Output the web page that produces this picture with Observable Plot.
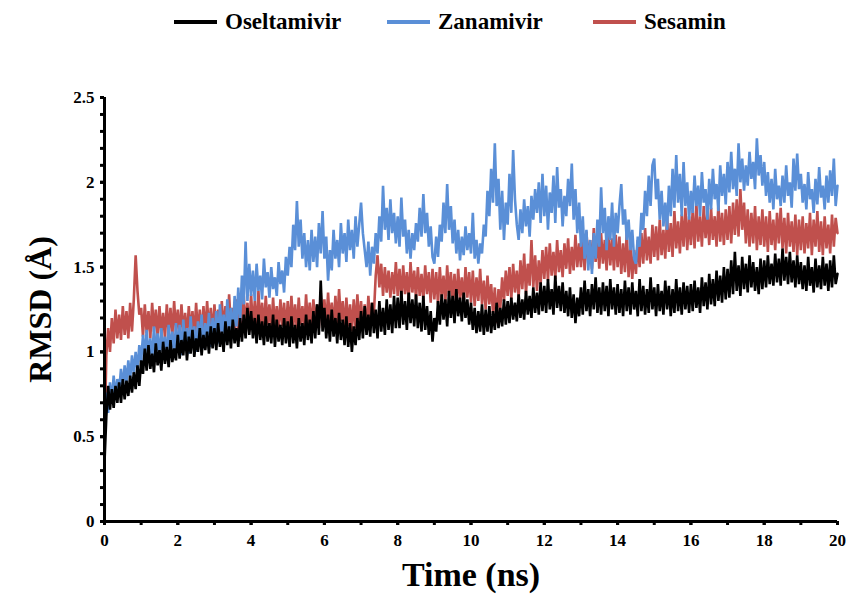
<!DOCTYPE html>
<html><head><meta charset="utf-8">
<script src="https://cdn.jsdelivr.net/npm/d3@7"></script>
<script src="https://cdn.jsdelivr.net/npm/@observablehq/plot@0.6"></script>
<style>
body{margin:0;background:#fff;font-family:"Liberation Serif",serif;}
#wrap{position:relative;width:846px;height:594px;}
#legend{position:relative;width:846px;height:50px;}
.item{position:absolute;top:8px;height:28px;display:flex;align-items:center;font-family:"Liberation Serif",serif;font-weight:bold;font-size:23px;color:#000;white-space:nowrap;}
.sw{width:43px;height:3.5px;margin-right:8px;}
</style></head>
<body><div id="wrap"><div id="legend"></div><div id="chart"></div></div>
<script>
const seriesNames = ["Oseltamivir", "Zanamivir", "Sesamin"];
const seriesColors = ["#000000", "#5a8fd7", "#c0504d"];
const dt = 0.05; // ns between stored samples
const xTicksLabeled = [0, 2, 4, 6, 8, 10, 12, 14, 16, 18, 20];
const xTicksMinor = [0,1,2,3,4,5,6,7,8,9,10,11,12,13,14,15,16,17,18,19,20];
const yTicksLabeled = [0, 0.5, 1, 1.5, 2, 2.5];
const yTicksMinor = [0,0.1,0.2,0.3,0.4,0.5,0.6,0.7,0.8,0.9,1,1.1,1.2,1.3,1.4,1.5,1.6,1.7,1.8,1.9,2,2.1,2.2,2.3,2.4,2.5];

// RMSD (Å), one row per ns (20 samples each) + final point at 20 ns
const oseltamivir = [
0.35,0.62,0.80,0.66,0.78,0.67,0.80,0.70,0.82,0.70,0.84,0.72,0.83,0.74,0.86,0.76,0.88,0.78,0.92,0.80,
0.95,0.87,1.02,0.89,1.04,0.90,0.99,0.88,1.05,0.92,1.01,0.89,1.06,0.93,1.03,0.91,1.07,0.94,1.02,0.95,
1.10,0.96,1.07,0.98,1.12,0.95,1.09,0.99,1.13,0.97,1.08,1.00,1.14,0.98,1.10,1.01,1.12,0.99,1.15,1.02,
1.14,1.01,1.17,1.03,1.12,1.00,1.18,1.04,1.15,1.02,1.19,1.05,1.14,1.03,1.20,1.06,1.22,1.08,1.26,1.10,
1.24,1.08,1.20,1.05,1.22,1.07,1.18,1.04,1.21,1.06,1.17,1.05,1.22,1.03,1.19,1.06,1.16,1.04,1.20,1.05,
1.18,1.03,1.21,1.05,1.16,1.02,1.20,1.06,1.17,1.04,1.22,1.07,1.19,1.05,1.24,1.08,1.28,1.10,1.42,1.12,
1.26,1.08,1.22,1.06,1.25,1.09,1.20,1.05,1.23,1.07,1.19,1.04,1.21,1.03,1.17,1.00,1.15,1.04,1.20,1.07,
1.24,1.08,1.27,1.10,1.22,1.09,1.29,1.11,1.25,1.08,1.30,1.12,1.26,1.10,1.31,1.13,1.28,1.11,1.33,1.14,
1.32,1.14,1.36,1.16,1.30,1.13,1.35,1.17,1.31,1.15,1.34,1.14,1.29,1.12,1.33,1.13,1.27,1.10,1.24,1.06,
1.20,1.12,1.30,1.16,1.34,1.19,1.31,1.15,1.36,1.20,1.33,1.17,1.37,1.21,1.32,1.18,1.35,1.20,1.31,1.16,
1.29,1.13,1.26,1.11,1.24,1.12,1.28,1.10,1.25,1.12,1.27,1.11,1.24,1.13,1.29,1.14,1.26,1.15,1.31,1.16,
1.30,1.17,1.32,1.19,1.29,1.18,1.34,1.20,1.31,1.19,1.36,1.22,1.33,1.20,1.38,1.23,1.35,1.22,1.41,1.24,
1.39,1.23,1.43,1.25,1.37,1.22,1.45,1.26,1.39,1.24,1.41,1.23,1.36,1.21,1.38,1.20,1.34,1.17,1.32,1.21,
1.38,1.22,1.42,1.24,1.37,1.21,1.40,1.25,1.44,1.23,1.38,1.22,1.41,1.24,1.39,1.21,1.43,1.25,1.38,1.22,
1.40,1.23,1.37,1.21,1.42,1.24,1.38,1.22,1.41,1.25,1.36,1.21,1.43,1.24,1.39,1.22,1.37,1.23,1.44,1.25,
1.38,1.21,1.40,1.24,1.36,1.22,1.42,1.25,1.39,1.21,1.37,1.23,1.43,1.24,1.38,1.22,1.41,1.25,1.39,1.23,
1.40,1.24,1.42,1.26,1.38,1.23,1.44,1.27,1.41,1.25,1.46,1.28,1.43,1.27,1.48,1.30,1.45,1.29,1.50,1.31,
1.49,1.32,1.54,1.34,1.59,1.36,1.51,1.33,1.56,1.37,1.52,1.35,1.57,1.38,1.53,1.36,1.50,1.34,1.55,1.37,
1.54,1.38,1.57,1.40,1.52,1.39,1.58,1.41,1.55,1.39,1.61,1.42,1.56,1.40,1.59,1.41,1.54,1.38,1.57,1.40,
1.53,1.37,1.51,1.36,1.56,1.39,1.50,1.35,1.55,1.38,1.51,1.37,1.56,1.39,1.52,1.36,1.54,1.38,1.57,1.40,
1.46];

const zanamivir = [
0.60,0.76,0.64,0.82,0.70,0.86,0.74,0.84,0.77,0.90,0.79,0.92,0.82,0.95,0.84,0.98,0.87,1.00,0.89,1.04,
0.94,1.10,0.96,1.13,0.97,1.08,0.95,1.15,0.99,1.11,0.96,1.14,1.00,1.09,0.97,1.16,1.01,1.12,0.98,1.17,
1.00,1.16,0.98,1.19,1.03,1.14,0.99,1.21,1.04,1.15,1.00,1.18,1.05,1.22,1.02,1.17,1.06,1.23,1.03,1.20,
1.07,1.24,1.05,1.28,1.10,1.22,1.06,1.31,1.12,1.26,1.08,1.33,1.15,1.38,1.18,1.45,1.28,1.65,1.30,1.52,
1.33,1.48,1.30,1.52,1.36,1.45,1.31,1.55,1.38,1.47,1.32,1.50,1.37,1.44,1.33,1.53,1.40,1.48,1.35,1.56,
1.45,1.62,1.50,1.75,1.60,1.89,1.62,1.78,1.55,1.70,1.50,1.66,1.48,1.72,1.53,1.68,1.50,1.76,1.58,1.83,
1.55,1.68,1.42,1.60,1.48,1.72,1.55,1.66,1.50,1.76,1.58,1.70,1.53,1.78,1.60,1.72,1.55,1.80,1.62,1.75,
1.88,1.70,1.60,1.50,1.65,1.45,1.62,1.52,1.70,1.58,1.80,1.65,1.98,1.72,1.85,1.66,1.90,1.70,1.82,1.64,
1.80,1.62,1.91,1.68,1.78,1.58,1.72,1.55,1.70,1.60,1.76,1.65,1.85,1.68,1.93,1.70,1.82,1.62,1.74,1.56,
1.52,1.68,1.56,1.75,1.65,1.88,1.70,1.99,1.72,1.86,1.64,1.78,1.58,1.72,1.54,1.68,1.57,1.74,1.60,1.70,
1.58,1.82,1.55,1.66,1.52,1.64,1.58,1.75,1.68,1.95,1.80,2.08,1.88,2.23,1.86,2.02,1.72,1.95,1.66,1.88,
1.75,2.05,1.82,2.19,1.90,1.75,1.66,1.84,1.70,1.90,1.74,1.86,1.68,1.92,1.78,1.96,1.82,2.00,1.76,2.05,
1.80,1.98,1.72,1.94,1.82,2.04,1.76,2.09,1.85,1.96,1.74,1.92,1.80,2.02,1.86,2.11,1.78,1.96,1.70,1.88,
1.62,1.80,1.55,1.72,1.48,1.66,1.46,1.70,1.55,1.78,1.62,1.97,1.70,1.85,1.60,1.80,1.66,1.88,1.62,1.82,
1.70,1.86,1.99,1.75,1.84,1.66,1.78,1.60,1.72,1.55,1.52,1.68,1.62,1.82,1.72,1.95,1.80,2.04,1.86,2.10,
2.14,1.90,2.02,1.78,1.95,1.74,1.88,1.72,1.98,1.80,2.08,1.85,2.16,1.88,2.05,1.80,2.12,1.86,2.00,1.78,
1.95,1.82,2.04,1.86,1.98,1.80,2.06,1.88,1.96,1.78,2.02,1.84,2.08,1.90,1.99,1.83,2.10,1.92,2.05,1.87,
2.12,1.94,2.18,1.96,2.08,1.92,2.23,2.00,2.14,1.95,2.10,1.98,2.18,2.02,2.12,1.96,2.26,2.04,2.16,1.98,
2.12,1.92,2.06,1.88,2.02,1.84,2.08,1.90,1.98,1.86,2.04,1.88,2.10,1.92,2.00,1.85,2.14,1.95,2.17,1.96,
2.05,1.88,1.99,1.84,2.06,1.90,1.96,1.82,2.02,1.87,2.09,1.91,1.98,1.84,2.04,1.88,2.07,1.92,2.14,1.86,
1.98];

const sesamin = [
0.45,0.98,1.14,1.00,1.20,1.05,1.25,1.08,1.22,1.07,1.27,1.10,1.24,1.08,1.29,1.12,1.31,1.57,1.36,1.22,
1.26,1.09,1.28,1.11,1.24,1.08,1.29,1.12,1.25,1.09,1.27,1.10,1.23,1.08,1.28,1.11,1.26,1.09,1.30,1.12,
1.25,1.09,1.28,1.11,1.23,1.08,1.27,1.12,1.24,1.09,1.29,1.10,1.25,1.08,1.27,1.11,1.30,1.12,1.26,1.10,
1.28,1.11,1.25,1.09,1.30,1.13,1.27,1.10,1.34,1.14,1.26,1.11,1.31,1.12,1.28,1.10,1.33,1.14,1.29,1.12,
1.34,1.14,1.30,1.12,1.36,1.15,1.29,1.13,1.33,1.16,1.28,1.12,1.32,1.14,1.27,1.13,1.31,1.15,1.29,1.12,
1.30,1.13,1.33,1.15,1.28,1.12,1.32,1.16,1.27,1.13,1.34,1.15,1.29,1.14,1.31,1.17,1.28,1.14,1.35,1.16,
1.31,1.15,1.35,1.17,1.29,1.14,1.33,1.16,1.37,1.18,1.30,1.13,1.32,1.15,1.28,1.12,1.31,1.14,1.34,1.16,
1.30,1.14,1.28,1.13,1.33,1.16,1.29,1.22,1.45,1.57,1.38,1.52,1.33,1.50,1.35,1.48,1.32,1.47,1.34,1.53,
1.33,1.49,1.31,1.51,1.34,1.47,1.30,1.53,1.35,1.48,1.31,1.50,1.33,1.46,1.30,1.51,1.34,1.47,1.29,1.49,
1.31,1.47,1.28,1.50,1.32,1.45,1.29,1.51,1.33,1.47,1.30,1.46,1.27,1.49,1.31,1.44,1.28,1.50,1.32,1.47,
1.29,1.48,1.27,1.44,1.30,1.49,1.28,1.42,1.25,1.45,1.28,1.40,1.23,1.38,1.17,1.37,1.26,1.44,1.30,1.48,
1.33,1.50,1.31,1.52,1.35,1.48,1.32,1.54,1.37,1.58,1.34,1.52,1.39,1.66,1.38,1.57,1.36,1.54,1.40,1.60,
1.43,1.62,1.42,1.64,1.45,1.59,1.43,1.66,1.47,1.60,1.44,1.64,1.49,1.67,1.46,1.62,1.48,1.69,1.50,1.64,
1.50,1.68,1.48,1.71,1.52,1.66,1.49,1.73,1.53,1.67,1.49,1.70,1.52,1.66,1.48,1.71,1.51,1.67,1.48,1.69,
1.50,1.68,1.46,1.64,1.47,1.71,1.44,1.62,1.43,1.60,1.46,1.66,1.50,1.70,1.52,1.73,1.54,1.68,1.52,1.75,
1.56,1.74,1.54,1.78,1.57,1.72,1.55,1.80,1.59,1.76,1.56,1.83,1.61,1.77,1.58,1.81,1.62,1.85,1.60,1.80,
1.63,1.84,1.61,1.87,1.65,1.80,1.62,1.86,1.67,1.82,1.63,1.85,1.66,1.80,1.62,1.87,1.65,1.82,1.63,1.84,
1.66,1.86,1.64,1.88,1.69,1.90,1.68,1.96,1.72,1.88,1.64,1.84,1.62,1.82,1.64,1.86,1.60,1.80,1.63,1.84,
1.62,1.80,1.59,1.83,1.63,1.78,1.60,1.82,1.64,1.85,1.61,1.79,1.58,1.82,1.62,1.77,1.59,1.81,1.57,1.78,
1.60,1.80,1.58,1.76,1.61,1.82,1.57,1.78,1.62,1.83,1.59,1.77,1.57,1.80,1.61,1.75,1.58,1.81,1.62,1.79,
1.70];

const seriesValues = [oseltamivir, zanamivir, sesamin];
const rows = seriesValues.map((vals, k) => vals.map((v, i) => ({t: +(i * dt).toFixed(2), v, s: seriesNames[k]})));

// legend
const legendLeft = [174, 387, 593];
const leg = document.getElementById("legend");
seriesNames.forEach((n, k) => {
  const it = document.createElement("div");
  it.className = "item";
  it.style.left = legendLeft[k] + "px";
  it.innerHTML = `<div class="sw" style="background:${seriesColors[k]}"></div><span>${n}</span>`;
  leg.appendChild(it);
});

const noLabel = () => "";
const plainNum = d => String(d);
const chart = Plot.plot({
  width: 846,
  height: 544,
  marginLeft: 104,
  marginRight: 9,
  marginTop: 47,
  marginBottom: 73,
  style: {fontFamily: "'Liberation Serif', serif", fontWeight: "bold", background: "#fff"},
  x: {domain: [0, 20]},
  y: {domain: [0, 2.5]},
  color: {domain: seriesNames, range: seriesColors},
  marks: [
    Plot.line(rows[2], {x: "t", y: "v", stroke: "s", strokeWidth: 2.6, strokeLinejoin: "miter"}),
    Plot.line(rows[1], {x: "t", y: "v", stroke: "s", strokeWidth: 2.6, strokeLinejoin: "miter"}),
    Plot.line(rows[0], {x: "t", y: "v", stroke: "s", strokeWidth: 2.6, strokeLinejoin: "miter"}),
    Plot.axisY({ticks: yTicksMinor, tickFormat: noLabel, tickSize: 4, strokeWidth: 3, label: null}),
    Plot.axisY({ticks: yTicksLabeled, tickFormat: plainNum, tickSize: 4, strokeWidth: 3, tickPadding: 6, fontSize: 17, fontWeight: "bold", label: null}),
    Plot.axisX({ticks: xTicksMinor, tickFormat: noLabel, tickSize: 4, strokeWidth: 3, label: null}),
    Plot.axisX({ticks: xTicksLabeled, tickFormat: plainNum, tickSize: 4, strokeWidth: 3, tickPadding: 8, fontSize: 17, fontWeight: "bold", label: null}),
    Plot.ruleX([0], {stroke: "#000", strokeWidth: 3}),
    Plot.ruleY([0], {stroke: "#000", strokeWidth: 3}),
    Plot.text(["RMSD (Å)"], {frameAnchor: "left", textAnchor: "middle", dx: -64, rotate: -90, fontSize: 32, fontWeight: "bold", fill: "#000"}),
    Plot.text(["Time (ns)"], {frameAnchor: "bottom", textAnchor: "middle", lineAnchor: "middle", dy: 54, fontSize: 34, fontWeight: "bold", fill: "#000"})
  ]
});
document.getElementById("chart").appendChild(chart);
</script>
</body></html>
